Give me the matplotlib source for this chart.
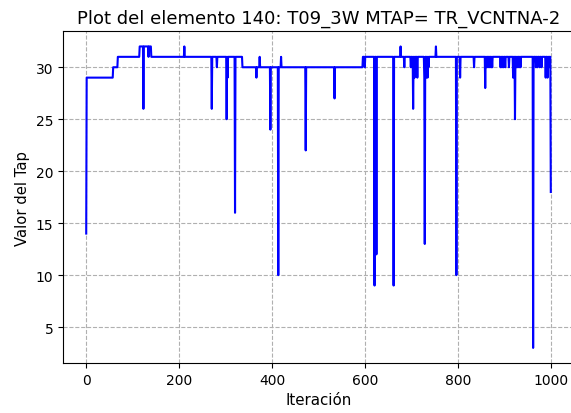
import matplotlib
matplotlib.use('Agg')
import matplotlib.pyplot as plt
import numpy as np

n_iter = 1000

# base level: (first iteration, tap value)
step_start = [0, 58, 68, 115, 140, 336, 595]
step_level = [29, 30, 31, 32, 31, 30, 31]

# single-iteration excursions: (iteration, tap value)
spike_iter = [0, 123, 134, 211, 270, 281, 302, 304, 320, 366, 373, 396, 413,
              419, 472, 534, 599, 620, 624, 661, 676, 684, 698, 701, 703, 706,
              709, 712, 727, 728, 731, 734, 736, 752, 796, 804, 834, 858, 861,
              864, 868, 871, 873, 891, 894, 897, 901, 909, 918, 922, 925, 928,
              931, 934, 961, 967, 970, 975, 979, 988, 992, 995, 999]
spike_val = [14, 26, 31, 32, 26, 30, 25, 29, 16, 29, 31, 24, 10,
             31, 22, 27, 30, 9, 12, 9, 32, 30, 30, 30, 26, 29,
             30, 29, 29, 13, 29, 29, 30, 32, 10, 29, 30, 28, 30,
             30, 30, 30, 30, 30, 30, 30, 30, 30, 29, 25, 30, 30,
             30, 30, 3, 30, 30, 30, 30, 29, 29, 30, 18]

tap = np.zeros(n_iter)
for i, s in enumerate(step_start):
    e = step_start[i + 1] if i + 1 < len(step_start) else n_iter
    tap[s:e] = step_level[i]
for it, v in zip(spike_iter, spike_val):
    tap[it] = v

fig = plt.figure(figsize=(5.71, 4.14), dpi=100)
ax = fig.add_axes([0.1103, 0.1208, 0.895, 0.801])
ax.plot(np.arange(n_iter), tap, 'b-')
ax.grid(True, linestyle='--')
# the frame runs past the right edge of the picture
ax.spines['right'].set_visible(False)
ax.set_title('Plot del elemento 140: T09_3W MTAP= TR_VCNTNA-2', fontsize=13)
ax.set_xlabel('Iteración', fontsize=10.8)
ax.set_ylabel('Valor del Tap', fontsize=10.6)

fig.savefig('out.png', dpi=100)
